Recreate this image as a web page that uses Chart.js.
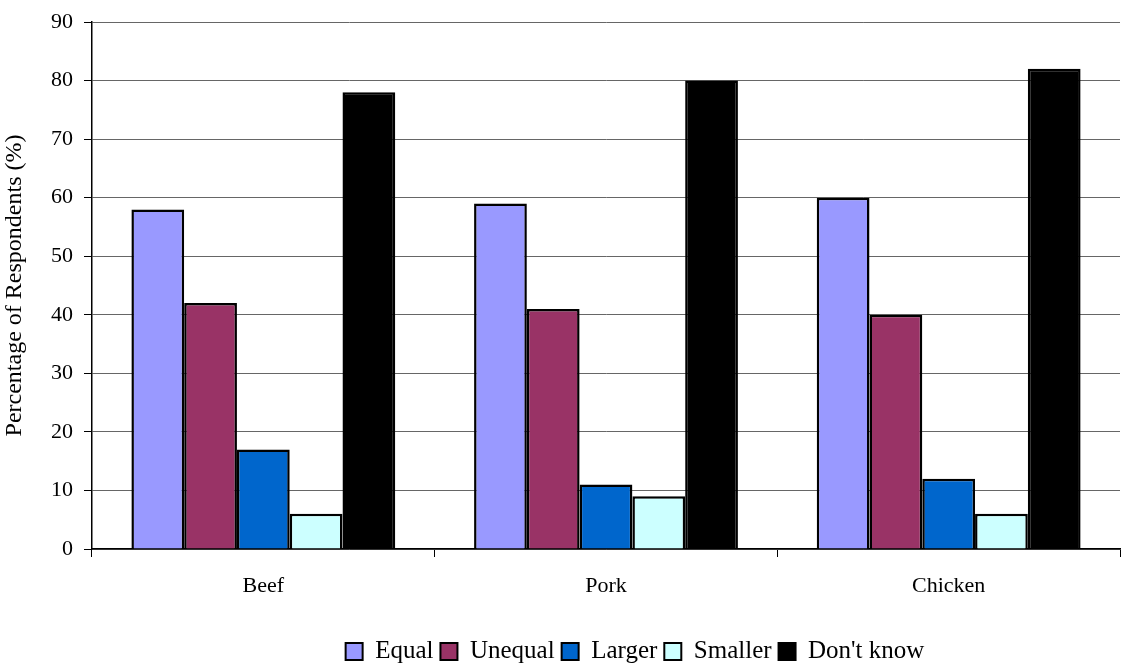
<!DOCTYPE html>
<html>
<head>
<meta charset="utf-8">
<script src="https://cdn.jsdelivr.net/npm/chart.js@4/dist/chart.umd.min.js"></script>
<style>
  html, body { margin: 0; padding: 0; background: #fff; }
  #wrap { width: 1122px; height: 665px; }
</style>
</head>
<body>
<div id="wrap"><canvas id="myChart" width="1122" height="665"></canvas></div>
<script>
// data
var categories = ['Beef', 'Pork', 'Chicken'];
var equal = [58, 59, 60];
var unequal = [42, 41, 40];
var larger = [17, 11, 12];
var smaller = [6, 9, 6];
var dontKnow = [78, 80, 82];
var yTicks = [0, 10, 20, 30, 40, 50, 60, 70, 80, 90];

var font = 'Liberation Serif, Times New Roman, serif';

function ds(label, values, color) {
    return {
        label: label,
        data: values,
        backgroundColor: color,
        borderColor: '#000',
        borderWidth: 2.5,
        borderSkipped: 'bottom',
        categoryPercentage: 0.77,
        barPercentage: 1.0
    };
}

// nudge the legend a bit right and down, like the original
var legendShift = {
    id: 'legendShift',
    afterLayout: function (c) {
        var lg = c.legend;
        lg.left += 150;
        lg.top += 9;
        lg.bottom += 9;
    }
};

var ctx = document.getElementById('myChart').getContext('2d');
var chart = new Chart(ctx, {
    type: 'bar',
    data: {
        labels: categories,
        datasets: [
            ds('Equal', equal, '#9999FF'),
            ds('Unequal', unequal, '#993366'),
            ds('Larger', larger, '#0066CC'),
            ds('Smaller', smaller, '#CCFFFF'),
            ds("Don't know", dontKnow, '#000000')
        ]
    },
    options: {
        responsive: false,
        animation: false,
        layout: { padding: { top: 6, right: 2, left: 0, bottom: 0 } },
        plugins: {
            tooltip: { enabled: false },
            legend: {
                position: 'bottom',
                labels: {
                    color: '#000',
                    font: { family: font, size: 25 },
                    boxWidth: 17,
                    boxHeight: 17,
                    padding: 7,
                    generateLabels: function (c) {
                        return c.data.datasets.map(function (d, i) {
                            return {
                                text: d.label,
                                fillStyle: d.backgroundColor,
                                strokeStyle: '#000',
                                lineWidth: 2,
                                datasetIndex: i,
                                fontColor: '#000'
                            };
                        });
                    }
                }
            }
        },
        scales: {
            x: {
                grid: { offset: true, drawOnChartArea: false, color: '#000', tickLength: 8 },
                border: { color: '#000', width: 1.5 },
                ticks: { color: '#000', font: { family: font, size: 22 }, padding: 16 },
                afterFit: function (s) { s.height = 74; }
            },
            y: {
                min: 0,
                max: 90,
                afterBuildTicks: function (s) { s.ticks = yTicks.map(function (v) { return { value: v }; }); },
                grid: { color: '#666', lineWidth: 1, tickLength: 8, tickColor: '#000' },
                border: { color: '#000', width: 1.5 },
                ticks: { color: '#000', font: { family: font, size: 22, lineHeight: 1 }, padding: 11 },
                title: {
                    display: true,
                    text: 'Percentage of Respondents (%)',
                    color: '#000',
                    font: { family: font, size: 24 },
                    padding: { top: 0, bottom: 4 }
                },
                afterFit: function (s) { s.width = 92; }
            }
        }
    },
    plugins: [legendShift]
});
</script>
</body>
</html>
